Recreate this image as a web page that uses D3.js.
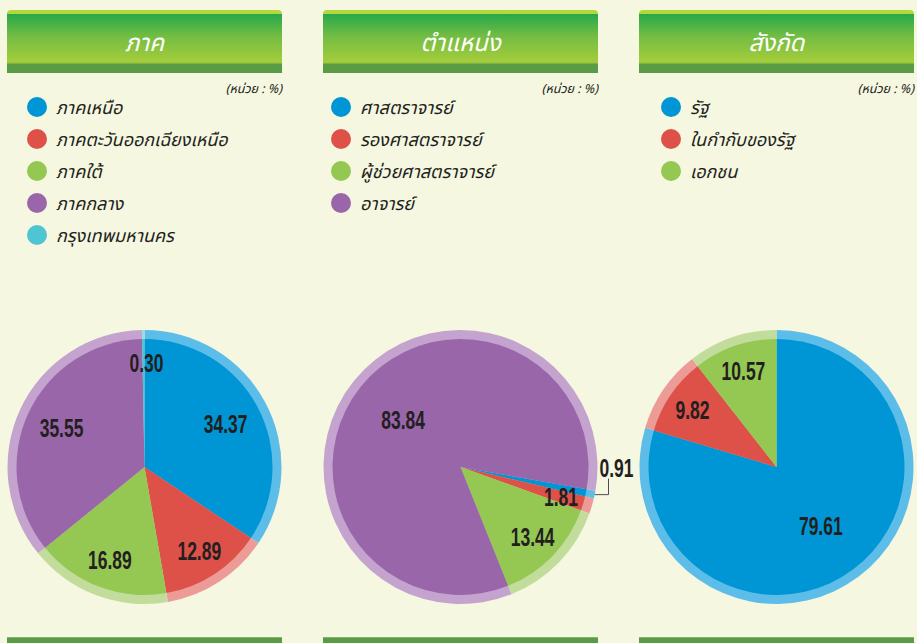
<!DOCTYPE html>
<html>
<head>
<meta charset="utf-8">
<script src="https://cdn.jsdelivr.net/npm/d3@7"></script>
<style>
  html, body { margin: 0; padding: 0; background: #f5f7e1; }
  svg { display: block; }
  .thai { font-family: "Noto Sans Thai", "Loma", "Garuda", "Kinnari", "Noto Sans", sans-serif; }
  .num { font-family: "Liberation Sans", "Arial", sans-serif; font-weight: bold; }
</style>
</head>
<body>
<svg id="chart"></svg>
<script>
// ข้อมูล (หน่วย : %)
const titles = ["ภาค", "ตำแหน่ง", "สังกัด"]
const unitLabel = "(หน่วย : %)"

const regionNames = ["ภาคเหนือ", "ภาคตะวันออกเฉียงเหนือ", "ภาคใต้", "ภาคกลาง", "กรุงเทพมหานคร"]
const regionValues = [34.37, 12.89, 16.89, 35.55, 0.30]

const positionNames = ["ศาสตราจารย์", "รองศาสตราจารย์", "ผู้ช่วยศาสตราจารย์", "อาจารย์"]
const positionValues = [0.91, 1.81, 13.44, 83.84]

const affiliationNames = ["รัฐ", "ในกำกับของรัฐ", "เอกชน"]
const affiliationValues = [79.61, 9.82, 10.57]

const sliceColors = ["#0095d4", "#dd5149", "#95c753", "#9a66aa", "#4fc4d3"]
const ringColors = ["#5dbde9", "#ec9b96", "#c2dd9b", "#c4a3cf", "#9bdbe3"]

const panels = [
    { title: titles[0], names: regionNames, values: regionValues, start: 0 },
    { title: titles[1], names: positionNames, values: positionValues, start: 100 },
    { title: titles[2], names: affiliationNames, values: affiliationValues, start: 0 }
]

const svgWidth = 917
const svgHeight = 643
const panelWidth = 275
const panelLeft = [7, 323, 639]
const pieY = 467
const outerR = 137
const innerR = 128
const numScale = 0.7

const svg = d3.select("#chart")
    .attr("width", svgWidth)
    .attr("height", svgHeight)

// gradient ของหัวข้อ
const defs = svg.append("defs")
const grad = defs.append("linearGradient")
    .attr("id", "headGrad")
    .attr("x1", 0).attr("y1", 0).attr("x2", 0).attr("y2", 1)
grad.append("stop").attr("offset", "0%").attr("stop-color", "#27a94a")
grad.append("stop").attr("offset", "45%").attr("stop-color", "#74bd43")
grad.append("stop").attr("offset", "100%").attr("stop-color", "#a8ce3a")

// ระยะของ label ตามขนาดชิ้น
const labelRadius = d3.scaleLinear().domain([0, 80]).range([0.77, 0.54]).clamp(true)

panels.forEach((p, i) => {
    const x0 = panelLeft[i]
    const cx = x0 + panelWidth / 2
    const g = svg.append("g")

    // หัวข้อ
    g.append("rect")
        .attr("x", x0).attr("y", 10)
        .attr("width", panelWidth).attr("height", 58)
        .attr("rx", 4)
        .attr("fill", "#b4d83b")
    g.append("rect")
        .attr("x", x0).attr("y", 14)
        .attr("width", panelWidth).attr("height", 50)
        .attr("fill", "url(#headGrad)")
    g.append("rect")
        .attr("x", x0).attr("y", 63)
        .attr("width", panelWidth).attr("height", 10)
        .attr("fill", "#5a9c45")
    g.append("rect")
        .attr("x", x0).attr("y", 62)
        .attr("width", panelWidth).attr("height", 1.5)
        .attr("fill", "#9cc83d")
    g.append("text")
        .attr("class", "thai")
        .attr("x", cx).attr("y", 51)
        .attr("text-anchor", "middle")
        .attr("fill", "white")
        .attr("font-size", 24)
        .attr("font-style", "italic")
        .text(p.title)

    // หน่วย
    g.append("text")
        .attr("class", "thai")
        .attr("x", x0 + panelWidth).attr("y", 93)
        .attr("text-anchor", "end")
        .attr("fill", "#231f20")
        .attr("font-size", 12.5)
        .attr("font-style", "italic")
        .text(unitLabel)

    // legend
    const legX = i == 2 ? x0 + 32 : (i == 1 ? x0 + 18 : x0 + 30)
    const leg = g.selectAll(".leg")
        .data(p.names)
        .enter()
        .append("g")
        .attr("transform", (d, j) => `translate(${legX},${107 + j * 32})`)
    leg.append("circle")
        .attr("r", 10)
        .attr("fill", (d, j) => sliceColors[j])
    leg.append("text")
        .attr("class", "thai")
        .attr("x", 19).attr("y", 7)
        .attr("font-size", 18)
        .attr("font-style", "italic")
        .attr("fill", "#231f20")
        .text(d => d)

    // pie
    const pie = d3.pie()
        .sort(null)
        .startAngle(p.start * Math.PI / 180)
        .endAngle(p.start * Math.PI / 180 + 2 * Math.PI)
    const arcs = pie(p.values)

    const pg = g.append("g").attr("transform", `translate(${cx},${pieY})`)
    const ringArc = d3.arc().innerRadius(0).outerRadius(outerR)
    const fillArc = d3.arc().innerRadius(0).outerRadius(innerR)

    pg.selectAll(".ring")
        .data(arcs)
        .enter()
        .append("path")
        .attr("d", ringArc)
        .attr("fill", (d, j) => ringColors[j])
    pg.selectAll(".slice")
        .data(arcs)
        .enter()
        .append("path")
        .attr("d", fillArc)
        .attr("fill", (d, j) => sliceColors[j])

    arcs.forEach(a => {
        const ang = (a.startAngle + a.endAngle) / 2
        let r = labelRadius(a.value) * outerR
        let lx = Math.sin(ang) * r
        let ly = -Math.cos(ang) * r
        const lbl = a.value.toFixed(2)

        if (a.value < 0.5 || (a.value < 1.5 && i == 1)) {
            if (i == 1) {
                // ชิ้นเล็กมาก ใช้เส้นนำ
                const ex = Math.sin(ang) * outerR
                const ey = -Math.cos(ang) * outerR
                pg.append("path")
                    .attr("d", `M${ex},${ey}H${outerR + 11}V${ey - 16}`)
                    .attr("fill", "none")
                    .attr("stroke", "#4d4d4d")
                    .attr("stroke-width", 1)
                pg.append("text")
                    .attr("class", "num")
                    .attr("transform", `translate(${outerR + 2},${ey - 18}) scale(${numScale},1)`)
                    .attr("font-size", 25)
                    .attr("fill", "#231f20")
                    .text(lbl)
                return
            }
            r = 0.76 * outerR
            lx = 2
            ly = -r
        }

        pg.append("text")
            .attr("class", "num")
            .attr("text-anchor", "middle")
            .attr("transform", `translate(${lx},${ly + 9}) scale(${numScale},1)`)
            .attr("font-size", 25)
            .attr("fill", "#231f20")
            .text(lbl)
    })

    // แถบล่าง
    g.append("rect")
        .attr("x", x0).attr("y", 637)
        .attr("width", panelWidth).attr("height", 6)
        .attr("fill", "#5a9c45")
    g.append("rect")
        .attr("x", x0).attr("y", 637)
        .attr("width", panelWidth).attr("height", 1)
        .attr("fill", "#85b46f")
})
</script>
</body>
</html>
